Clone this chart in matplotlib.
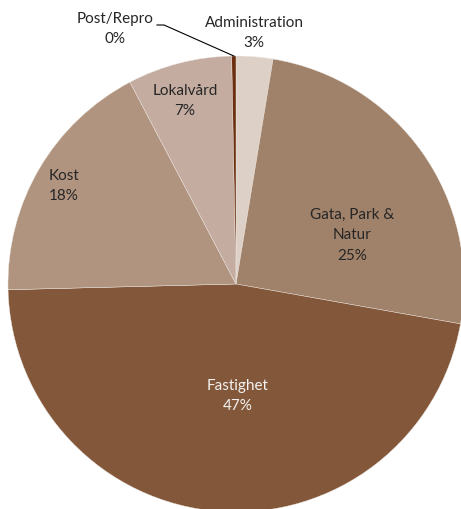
import numpy as np
import matplotlib.pyplot as plt

# slices, clockwise from 12 o'clock
labels = ['Administration', 'Gata, Park &\nNatur', 'Fastighet', 'Kost', 'Lokalvård', 'Post/Repro']
shares = [2.6, 25.2, 46.8, 17.7, 7.4, 0.3]
colors = ['#DDD1C7', '#A0826A', '#83573A', '#B0947F', '#C4ACA0', '#6B2E0E']

plt.rcParams['font.family'] = ['Lato', 'DejaVu Sans']

fig = plt.figure(figsize=(4.61, 5.09), dpi=100)
ax = fig.add_axes([0, 0, 1, 1])

cx, cy, r = 236, 509 - 284, 228
wedges, _ = ax.pie(shares, colors=colors, startangle=90, counterclock=False,
                   center=(cx, cy), radius=r,
                   wedgeprops=dict(edgecolor='#EDE6E0', linewidth=0.3))
ax.set_xlim(0, 461)
ax.set_ylim(0, 509)
ax.set_aspect('equal')
ax.axis('off')

# label spots in pixel coords (x, y from top)
spots = [(254, 33), (352, 235), (238, 396), (64, 186), (185, 101), (115, 29)]
for lab, val, (x, y), col in zip(labels, shares, spots, colors):
    txtcol = '#F2F2F2' if col == '#83573A' else '#262626'
    ax.text(x, 509 - y, f'{lab}\n{round(val)}%', ha='center', va='center',
            fontsize=11, color=txtcol, linespacing=1.6)

# leader line for the tiny Post/Repro slice
w = wedges[-1]
mid = np.deg2rad((w.theta1 + w.theta2) / 2)
ex, ey = cx + r * np.cos(mid), cy + r * np.sin(mid)
ax.plot([157, 164, ex], [509 - 25, 509 - 25, ey], color='black', lw=0.8)

fig.savefig('out.png', dpi=100)
